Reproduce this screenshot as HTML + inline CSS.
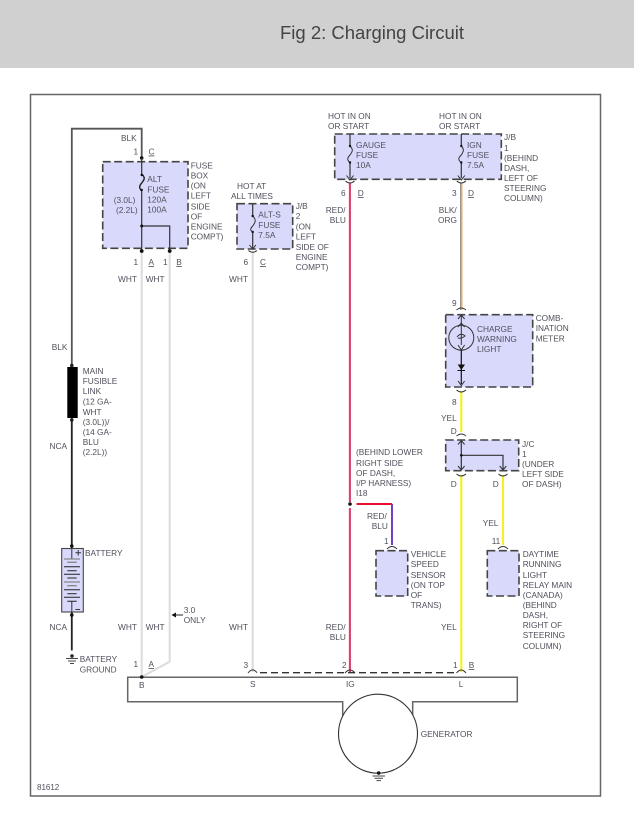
<!DOCTYPE html>
<html><head><meta charset="utf-8"><style>
html,body{margin:0;padding:0;background:#fff}
svg{display:block}
text{font-family:"Liberation Sans",sans-serif;font-size:8.3px;fill:#50505c}
.b{fill:#d9d9fc;stroke:#444;stroke-width:1.6;stroke-dasharray:8 3.5}
.w{fill:none;stroke:#333;stroke-width:1.2}
.a{fill:none;stroke:#333;stroke-width:1}
</style></head><body>
<svg width="634" height="820" viewBox="0 0 634 820" xmlns="http://www.w3.org/2000/svg">
<rect width="634" height="820" fill="#fff"/>
<rect width="634" height="68" fill="#d0d0d0"/>
<text x="280" y="39" textLength="184" style="font-size:18.5px;fill:#444">Fig 2: Charging Circuit</text>
<rect x="30.5" y="94.5" width="570" height="701.5" fill="none" stroke="#666" stroke-width="1.5"/>

<!-- boxes -->
<rect class="b" x="102.7" y="161.7" width="85.3" height="86.6"/>
<rect class="b" x="237" y="203.7" width="55.7" height="45.3"/>
<rect class="b" x="334.7" y="134" width="166.6" height="45.3"/>
<rect class="b" x="445.7" y="314.7" width="87" height="72.3"/>
<rect class="b" x="445.7" y="440" width="73" height="30.7"/>
<rect class="b" x="376" y="550.7" width="31.7" height="45.3"/>
<rect class="b" x="487.3" y="550.7" width="31.7" height="45.3"/>

<!-- coloured wires -->
<path d="M141.7 252V677M169.7 252V661.6L141.7 677M252.7 251V672" fill="none" stroke="#dcdcdc" stroke-width="2"/>
<path d="M349.9 183V502M349.9 508V672" fill="none" stroke="#df3f6f" stroke-width="2.1"/>
<path d="M460.7 183V310" fill="none" stroke="#8a8a8a" stroke-width="1.2"/>
<path d="M461.9 183V310" fill="none" stroke="#eeaa66" stroke-width="1.2"/>
<path d="M461.3 391V432M461.3 475V672M503 475V545" fill="none" stroke="#f6f020" stroke-width="2.1"/>
<path d="M356.5 504H392" fill="none" stroke="#e8102c" stroke-width="2"/>
<path d="M392 504V545" fill="none" stroke="#7040c0" stroke-width="2"/>

<!-- BLK/NCA wires -->
<path d="M141.7 158V128.7H71.8V367" fill="none" stroke="#555" stroke-width="1.8"/>
<path d="M71.8 418V548M71.8 612V650.5" fill="none" stroke="#222" stroke-width="1.8"/>
<rect x="67.3" y="367" width="10.4" height="51" fill="#000"/>
<circle cx="71.8" cy="365.5" r="1.8" fill="#222"/><circle cx="71.8" cy="420" r="1.8" fill="#222"/>
<circle cx="71.8" cy="546" r="1.8" fill="#111"/><circle cx="71.8" cy="615" r="1.8" fill="#111"/>

<!-- battery -->
<rect x="61.7" y="548.5" width="21.6" height="63.5" fill="#d9d9fc" stroke="#444" stroke-width="1.1"/>
<path d="M71.8 548.5V559M71.8 601V612" stroke="#333" fill="none"/>
<path d="M64 559H80M67.3 562.3H76.7M64 582H80M67.3 585.7H76.7" stroke="#888" stroke-width="1.3" fill="none"/>
<path d="M64 566.7H80M67.3 570.7H76.7M64 574.3H80M67.3 578H76.7M64 589.7H80M67.3 593.7H76.7M64 597.3H80M67.3 601.3H76.7" stroke="#222" stroke-width="1" fill="none"/>
<path d="M75.5 552.8H81M78.2 550V555.6M75.5 609.5H80" stroke="#333" fill="none"/>
<!-- battery ground -->
<circle cx="72" cy="656" r="1.8" fill="#222"/>
<path d="M72 656V658M66 658.5H78M68 661H76M70 663.5H74" stroke="#444" fill="none"/>

<!-- alt fuse -->
<circle cx="141.7" cy="158" r="1.8" fill="#111"/>
<path class="w" d="M141.7 158V174"/>
<path d="M141.7 174C146 178 144 180 141.7 183C139 186 139 188 141.7 191" fill="none" stroke="#222" stroke-width="1.4"/>
<circle cx="141.7" cy="175" r="1.2" fill="#111"/><circle cx="141.7" cy="190" r="1.2" fill="#111"/>
<path class="w" d="M141.7 191V251M141.7 226H169.7V251"/>
<circle cx="141.7" cy="226" r="1.5" fill="#111"/>
<circle cx="141.7" cy="251" r="1.9" fill="#111"/><circle cx="169.7" cy="251" r="1.9" fill="#111"/>

<!-- alt-s fuse -->
<path class="w" d="M252.7 204V216M252.7 232V248"/>
<path class="a" d="M252.7 216C257 220 255 223 252.7 226C250 229 250 230 252.7 232"/>
<circle cx="252.7" cy="216" r="1.2" fill="#111"/><circle cx="252.7" cy="232" r="1.2" fill="#111"/>
<path class="a" d="M249.5 245L252.7 249L255.9 245M248.5 250.5Q252.7 254 257 250.5"/>

<!-- gauge / ign fuses -->
<path class="w" d="M350 134V146M350 162.5V178M461.3 134V146M461.3 162.5V178"/>
<path class="a" d="M350 146C354 150 352 152 350 155C347 158 347 160 350 162.5M461.3 146C465 150 463 152 461.3 155C458 158 458 160 461.3 162.5"/>
<circle cx="350" cy="146" r="1.2" fill="#111"/><circle cx="350" cy="162.5" r="1.2" fill="#111"/>
<circle cx="461.3" cy="146" r="1.2" fill="#111"/><circle cx="461.3" cy="162.5" r="1.2" fill="#111"/>
<path class="a" d="M346.5 175.5L350 180L353.5 175.5M457.8 175.5L461.3 180L464.8 175.5"/>
<path class="a" d="M345.5 181Q350 185 354.5 181M456.8 181Q461.3 185 465.8 181"/>

<!-- combination meter -->
<path class="a" d="M456.5 310Q461.3 306 466 310"/>
<path class="a" d="M458 319L461.3 315L464.6 319M458 327L461.3 323L464.6 327M458 345L461.3 350L464.6 345"/>
<circle class="a" cx="461.3" cy="337.7" r="12.5"/>
<path class="a" d="M461.3 315V345"/>
<path class="a" d="M457 337Q461 332 465 336Q461 339 458 338"/>
<path d="M461.3 350V384" stroke="#111" stroke-width="1.2" fill="none"/>
<path d="M457.7 364.5H465L461.3 370Z" fill="#111"/><path d="M457.5 370.5H465" stroke="#111"/>
<path class="a" d="M458 381L461.3 385.5L464.6 381"/>
<path class="a" d="M456.5 390Q461.3 394 466 390"/>

<!-- j/c -->
<path class="a" d="M456.5 436Q461.3 432 466 436"/>
<path class="w" d="M461.3 441V469M461.3 455.3H503V469"/>
<circle cx="461.3" cy="455.3" r="1.3" fill="#111"/>
<path class="a" d="M458 444.5L461.3 440.5L464.6 444.5M458 466L461.3 470L464.6 466M499.7 466L503 470L506.3 466"/>
<path class="a" d="M456.5 474Q461.3 478 466 474M498.5 474Q503 478 507.5 474"/>

<!-- I18 splice and sensor connectors -->
<circle cx="350" cy="504" r="1.8" fill="#111"/>
<path class="a" d="M387 549Q392 544 397 549M498 549Q503 544 508 549"/>

<!-- 3.0 only arrow -->
<path d="M171.5 615L176 612.5V617.5Z" fill="#111"/><path d="M175 615H183" stroke="#222" fill="none"/>

<!-- generator -->
<path d="M342.7 722V701.7H127.7V677.2H517.3V701.7H412.7V722" fill="none" stroke="#666" stroke-width="1.5"/>
<circle cx="378" cy="733.7" r="39.5" fill="#fff" stroke="#333" stroke-width="1.1"/>
<path d="M260 672.7H454" stroke="#333" stroke-width="1.4" stroke-dasharray="7 4" fill="none"/>
<path class="a" d="M248 673Q252.7 667 257 672.7M345 673Q350 667 355 673M456.5 673Q461.3 667 466 673"/>
<circle cx="141.7" cy="677" r="1.8" fill="#111"/>
<circle cx="378.7" cy="773" r="1.8" fill="#111"/>
<path d="M372.5 776H385M374.5 778.3H383M376.5 780.6H381" stroke="#444" fill="none"/>

<!-- labels -->
<text x="121" y="141">BLK</text>
<text x="133.5" y="154.5">1</text><text x="148.5" y="154.5" text-decoration="underline">C</text>
<text y="168.7"><tspan x="190.7">FUSE</tspan><tspan x="190.7" y="178.7">BOX</tspan><tspan x="190.7" y="188.7">(ON</tspan><tspan x="190.7" y="198.7">LEFT</tspan><tspan x="190.7" y="209.3">SIDE</tspan><tspan x="190.7" y="219.3">OF</tspan><tspan x="190.7" y="229.3">ENGINE</tspan><tspan x="190.7" y="239.3">COMPT)</tspan></text>
<text x="147.3" y="182">ALT</text><text x="147.3" y="192.7">FUSE</text><text x="147.3" y="202.7">120A</text><text x="147.3" y="212.7">100A</text>
<text x="113.7" y="203">(3.0L)</text><text x="116" y="213">(2.2L)</text>
<text x="133.5" y="265">1</text><text x="148.5" y="265" text-decoration="underline">A</text><text x="163" y="265">1</text><text x="176.3" y="265" text-decoration="underline">B</text>
<text x="118" y="282">WHT</text><text x="145.7" y="282">WHT</text>
<text x="237" y="189">HOT AT</text><text x="231" y="199">ALL TIMES</text>
<text x="258.3" y="217.5">ALT-S</text><text x="258.3" y="228">FUSE</text><text x="258.3" y="238">7.5A</text>
<text y="209"><tspan x="295.7">J/B</tspan><tspan x="295.7" y="219">2</tspan><tspan x="295.7" y="229.5">(ON</tspan><tspan x="295.7" y="239.5">LEFT</tspan><tspan x="295.7" y="250">SIDE OF</tspan><tspan x="295.7" y="260">ENGINE</tspan><tspan x="295.7" y="270">COMPT)</tspan></text>
<text x="243.5" y="265">6</text><text x="260" y="265" text-decoration="underline">C</text>
<text x="229" y="282">WHT</text>

<text x="328" y="119">HOT IN ON</text><text x="328" y="129">OR START</text>
<text x="439" y="119">HOT IN ON</text><text x="439" y="129">OR START</text>
<text x="356" y="148">GAUGE</text><text x="356" y="158">FUSE</text><text x="356" y="168">10A</text>
<text x="467" y="148">IGN</text><text x="467" y="158">FUSE</text><text x="467" y="168">7.5A</text>
<text y="140"><tspan x="504">J/B</tspan><tspan x="504" y="151">1</tspan><tspan x="504" y="161">(BEHIND</tspan><tspan x="504" y="171">DASH,</tspan><tspan x="504" y="181">LEFT OF</tspan><tspan x="504" y="191">STEERING</tspan><tspan x="504" y="201">COLUMN)</tspan></text>
<text x="341" y="196">6</text><text x="357.7" y="196" text-decoration="underline">D</text>
<text x="452" y="196">3</text><text x="468" y="196" text-decoration="underline">D</text>
<text x="325.7" y="213">RED/</text><text x="329.7" y="223">BLU</text>
<text x="438.7" y="213">BLK/</text><text x="438" y="223">ORG</text>

<text x="452" y="306">9</text>
<text x="477" y="332">CHARGE</text><text x="477" y="342">WARNING</text><text x="477" y="352">LIGHT</text>
<text x="535.7" y="321">COMB-</text><text x="535.7" y="331">INATION</text><text x="535.7" y="341.5">METER</text>
<text x="452" y="405">8</text><text x="441" y="421">YEL</text><text x="450.7" y="434">D</text>
<text y="447"><tspan x="522">J/C</tspan><tspan x="522" y="457">1</tspan><tspan x="522" y="467">(UNDER</tspan><tspan x="522" y="477">LEFT SIDE</tspan><tspan x="522" y="487">OF DASH)</tspan></text>
<text x="450.7" y="487">D</text><text x="492.7" y="487">D</text>
<text y="455"><tspan x="356">(BEHIND LOWER</tspan><tspan x="356" y="466">RIGHT SIDE</tspan><tspan x="356" y="476">OF DASH,</tspan><tspan x="356" y="486">I/P HARNESS)</tspan><tspan x="356" y="496">I18</tspan></text>

<text x="367" y="519">RED/</text><text x="371.7" y="529">BLU</text><text x="384" y="544">1</text>
<text y="557"><tspan x="410.7">VEHICLE</tspan><tspan x="410.7" y="567">SPEED</tspan><tspan x="410.7" y="578">SENSOR</tspan><tspan x="410.7" y="588">(ON TOP</tspan><tspan x="410.7" y="598">OF</tspan><tspan x="410.7" y="608">TRANS)</tspan></text>
<text x="482.7" y="526">YEL</text><text x="491.7" y="544">11</text>
<text y="557"><tspan x="522.7">DAYTIME</tspan><tspan x="522.7" y="567">RUNNING</tspan><tspan x="522.7" y="578">LIGHT</tspan><tspan x="522.7" y="588">RELAY MAIN</tspan><tspan x="522.7" y="598">(CANADA)</tspan><tspan x="522.7" y="608">(BEHIND</tspan><tspan x="522.7" y="618">DASH,</tspan><tspan x="522.7" y="628">RIGHT OF</tspan><tspan x="522.7" y="638">STEERING</tspan><tspan x="522.7" y="649">COLUMN)</tspan></text>
<text x="441" y="630">YEL</text><text x="325.7" y="630">RED/</text><text x="329.7" y="640">BLU</text>
<text x="453" y="668">1</text><text x="468.7" y="668" text-decoration="underline">B</text><text x="342" y="668">2</text><text x="243.5" y="668">3</text>
<text x="458.7" y="687">L</text><text x="346" y="687">IG</text><text x="250" y="687">S</text><text x="139" y="688">B</text>
<text x="420.7" y="737">GENERATOR</text>

<text x="118" y="630">WHT</text><text x="145.7" y="630">WHT</text><text x="229" y="630">WHT</text><text x="49.5" y="630">NCA</text>
<text x="49.5" y="449">NCA</text><text x="51.7" y="350">BLK</text>
<text y="374"><tspan x="82.7">MAIN</tspan><tspan x="82.7" y="384">FUSIBLE</tspan><tspan x="82.7" y="394">LINK</tspan><tspan x="82.7" y="404.5">(12 GA-</tspan><tspan x="82.7" y="415">WHT</tspan><tspan x="82.7" y="425">(3.0L))/</tspan><tspan x="82.7" y="435">(14 GA-</tspan><tspan x="82.7" y="445">BLU</tspan><tspan x="82.7" y="455">(2.2L))</tspan></text>
<text x="85" y="556">BATTERY</text>
<text x="79.7" y="662">BATTERY</text><text x="79.7" y="672.5">GROUND</text>
<text x="133.5" y="667">1</text><text x="148.5" y="667" text-decoration="underline">A</text>
<text x="183.7" y="613">3.0</text><text x="183.7" y="623">ONLY</text>
<text x="37" y="790" style="font-size:8px">81612</text>
</svg>
</body></html>
